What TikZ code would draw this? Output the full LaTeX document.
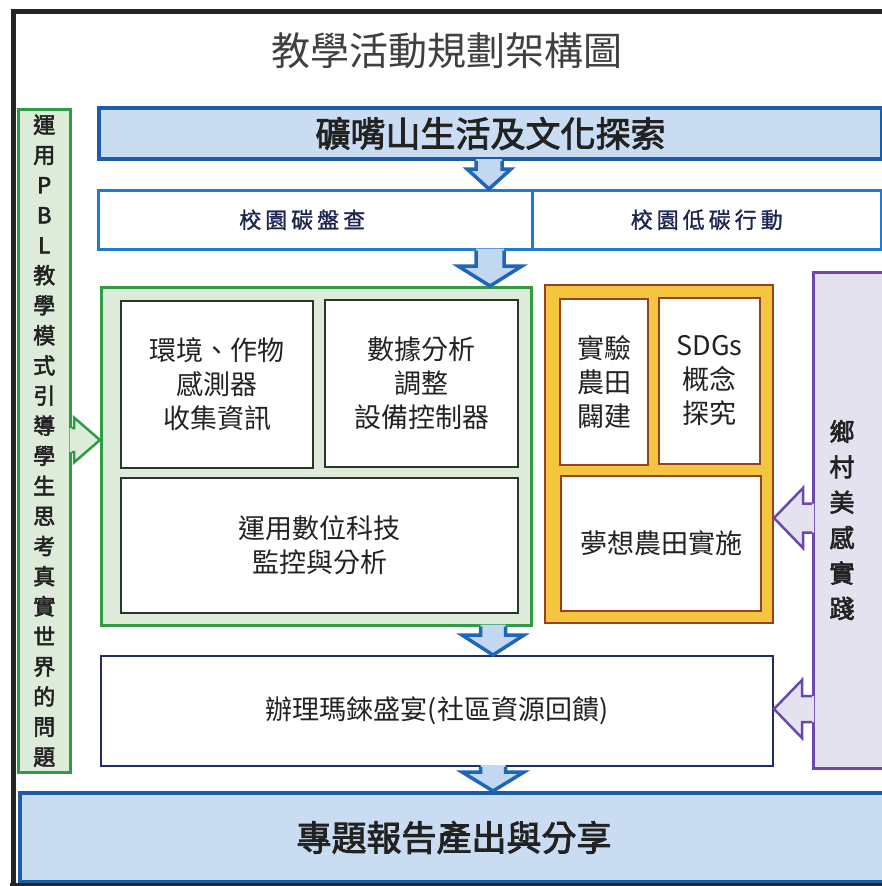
\documentclass[tikz,border=0pt]{standalone}
\usepackage{fontspec}
\newfontfamily\cjk{Noto Sans CJK TC}
\newfontfamily\cjkmed{Noto Sans CJK TC}[FakeBold=2.5]
\newfontfamily\cjkrow{Noto Sans CJK TC}[FakeBold=1.2]
\usetikzlibrary{calc}
\definecolor{topfill}{HTML}{C9DCF2}
\definecolor{topline}{HTML}{1E5CA8}
\definecolor{rowline}{HTML}{1F7BD0}
\definecolor{rowtext}{HTML}{1C2550}
\definecolor{grnfill}{HTML}{DDEBD9}
\definecolor{grnline}{HTML}{2F9B45}
\definecolor{innerline}{HTML}{2B352B}
\definecolor{orgfill}{HTML}{F4C63F}
\definecolor{orgline}{HTML}{9A3F1F}
\definecolor{purfill}{HTML}{E5E2F0}
\definecolor{purline}{HTML}{6E47AE}
\definecolor{navy}{HTML}{1F2E66}
\definecolor{arrfill}{HTML}{C2D7F0}
\definecolor{arrline}{HTML}{1F66B8}
\definecolor{txt}{HTML}{222222}
\newcommand\fa{\cjk\fontsize{27}{34}\selectfont}
\newcommand\fb{\cjkmed\fontsize{35}{40}\selectfont}
% block arrows: style, position, shaft half width, head half width, head length, from, to
\newcommand\downblk[7]{%
 \fill[#1fill] let \p1=(#6.south), \p2=(#7.north) in
  (#2pt-#3pt,\y1+2pt) -- (#2pt-#3pt,\y2+#5pt) -- (#2pt-#4pt,\y2+#5pt) -- (#2pt,\y2)
  -- (#2pt+#4pt,\y2+#5pt) -- (#2pt+#3pt,\y2+#5pt) -- (#2pt+#3pt,\y1+2pt) -- cycle;
 \draw[#1line] let \p1=(#6.south), \p2=(#7.north) in
  (#2pt-#3pt,\y1) -- (#2pt-#3pt,\y2+#5pt) -- (#2pt-#4pt,\y2+#5pt) -- (#2pt,\y2)
  -- (#2pt+#4pt,\y2+#5pt) -- (#2pt+#3pt,\y2+#5pt) -- (#2pt+#3pt,\y1);}
\newcommand\rightblk[7]{%
 \fill[#1fill] let \p1=(#6.east), \p2=(#7.west) in
  (\x1-2pt,-#2pt+#3pt) -- (\x2-#5pt,-#2pt+#3pt) -- (\x2-#5pt,-#2pt+#4pt) -- (\x2,-#2pt)
  -- (\x2-#5pt,-#2pt-#4pt) -- (\x2-#5pt,-#2pt-#3pt) -- (\x1-2pt,-#2pt-#3pt) -- cycle;
 \draw[#1line] let \p1=(#6.east), \p2=(#7.west) in
  (\x1,-#2pt+#3pt) -- (\x2-#5pt,-#2pt+#3pt) -- (\x2-#5pt,-#2pt+#4pt) -- (\x2,-#2pt)
  -- (\x2-#5pt,-#2pt-#4pt) -- (\x2-#5pt,-#2pt-#3pt) -- (\x1,-#2pt-#3pt);}
\newcommand\leftblk[7]{%
 \fill[#1fill] let \p1=(#6.west), \p2=(#7.east) in
  (\x1+2pt,-#2pt+#3pt) -- (\x2+#5pt,-#2pt+#3pt) -- (\x2+#5pt,-#2pt+#4pt) -- (\x2,-#2pt)
  -- (\x2+#5pt,-#2pt-#4pt) -- (\x2+#5pt,-#2pt-#3pt) -- (\x1+2pt,-#2pt-#3pt) -- cycle;
 \draw[#1line] let \p1=(#6.west), \p2=(#7.east) in
  (\x1,-#2pt+#3pt) -- (\x2+#5pt,-#2pt+#3pt) -- (\x2+#5pt,-#2pt+#4pt) -- (\x2,-#2pt)
  -- (\x2+#5pt,-#2pt-#4pt) -- (\x2+#5pt,-#2pt-#3pt) -- (\x1,-#2pt-#3pt);}
\begin{document}
\begin{tikzpicture}[x=1pt,y=-1pt,
  box/.style={rectangle, inner sep=0pt, anchor=north west, align=center, text=txt},
  bigblue/.style={box, draw=topline, fill=topfill, line width=4pt, font=\fb},
  rowbox/.style={box, draw=rowline, fill=white, line width=2.5pt, text=rowtext,
    font=\cjkrow\fontsize{22}{26}\selectfont},
  grnbox/.style={box, draw=grnline, fill=grnfill, line width=2.5pt},
  innerbox/.style={box, draw=innerline, fill=white, line width=2pt, font=\fa},
  orgbox/.style={box, draw=orgline, fill=orgfill, line width=2pt},
  orginner/.style={box, draw=orgline, fill=white, line width=2pt, font=\fa},
  purbox/.style={box, draw=purline, fill=purfill, line width=2.5pt},
  bluefill/.style={fill=arrfill},
  blueline/.style={draw=arrline, line width=3.5pt, line join=miter},
  greenfill/.style={fill=grnfill},
  greenline/.style={draw=grnline, line width=2.5pt, line join=miter},
  purplefill/.style={fill=purfill},
  purpleline/.style={draw=purline, line width=2.5pt, line join=miter},
  frame/.style={draw=black!85, line width=5pt}]
\useasboundingbox (0,0) rectangle (882,886);
\clip (0,0) rectangle (882,886);
\fill[white] (0,0) rectangle (882,886);

\node[font=\cjk\fontsize{39}{39}\selectfont, text=black!75] (title) at (447,51) {教學活動規劃架構圖};

\node[bigblue, minimum width=783pt, minimum height=51pt] (top) at (97,106) {礦嘴山生活及文化探索};

\node[rowbox, minimum width=434pt, minimum height=59pt] (rowa) at (97,189)
  {校\hskip4pt 園\hskip4pt 碳\hskip4pt 盤\hskip4pt 查\hspace*{26pt}};
\node[rowbox, minimum width=349pt, minimum height=59pt] (rowb) at (531,189)
  {校\hskip4pt 園\hskip4pt 低\hskip4pt 碳\hskip4pt 行\hskip4pt 動};

\node[grnbox, minimum width=52pt, minimum height=663pt,
  font=\cjkmed\fontsize{22}{30.1}\selectfont] (strip) at (17,108)
  {運\\用\\P\\B\\L\\教\\學\\模\\式\\引\\導\\學\\生\\思\\考\\真\\實\\世\\界\\的\\問\\題};

\node[grnbox, minimum width=430pt, minimum height=338pt] (green) at (100,286) {};
\node[innerbox, minimum width=192pt, minimum height=167pt] (g1) at (120,300)
  {環境、作物\\感測器\\收集資訊};
\node[innerbox, minimum width=193pt, minimum height=167pt] (g2) at (324,299)
  {數據分析\\調整\\設備控制器};
\node[innerbox, minimum width=397pt, minimum height=135pt] (g3) at (120,477)
  {運用數位科技\\監控與分析};

\node[orgbox, minimum width=228pt, minimum height=338pt] (org) at (544,284) {};
\node[orginner, minimum width=88pt, minimum height=166pt] (oa) at (559,298)
  {實驗\\農田\\闢建};
\node[orginner, minimum width=101pt, minimum height=166pt] (ob) at (658,297)
  {SDGs\\概念\\探究};
\node[orginner, minimum width=200pt, minimum height=135pt] (oc) at (560,475)
  {夢想農田實施};

\node[purbox, minimum width=100pt, minimum height=496pt] (purple) at (812,271) {};
\node[font=\cjkmed\fontsize{25}{35.4}\selectfont, align=center, text=txt]
  (purtxt) at (842,520) {鄉\\村\\美\\感\\實\\踐};

\node[box, draw=navy, fill=white, line width=2pt, font=\fa,
  minimum width=672pt, minimum height=110pt] (ban) at (100,655)
  {辦理瑪錸盛宴(社區資源回饋)};

\node[bigblue, minimum width=868pt, minimum height=89pt] (bottom) at (18,791)
  {專題報告產出與分享};

\downblk{blue}{489}{13}{22}{20}{top}{rowa}
\downblk{blue}{490}{14}{32}{20}{rowa}{green}
\downblk{blue}{493}{12.5}{31}{20}{green}{ban}
\downblk{blue}{493}{12.5}{31}{19}{ban}{bottom}
\rightblk{green}{440}{12}{22.5}{26}{strip}{green}
\leftblk{purple}{518}{14.5}{30}{29}{purple}{org}
\leftblk{purple}{709}{13}{29}{28}{purple}{ban}

\draw[frame] (13,890) -- (13,11) -- (890,11);
\draw[draw=black!85, line width=4pt] (10,884.5) -- (890,884.5);
\end{tikzpicture}
\end{document}
